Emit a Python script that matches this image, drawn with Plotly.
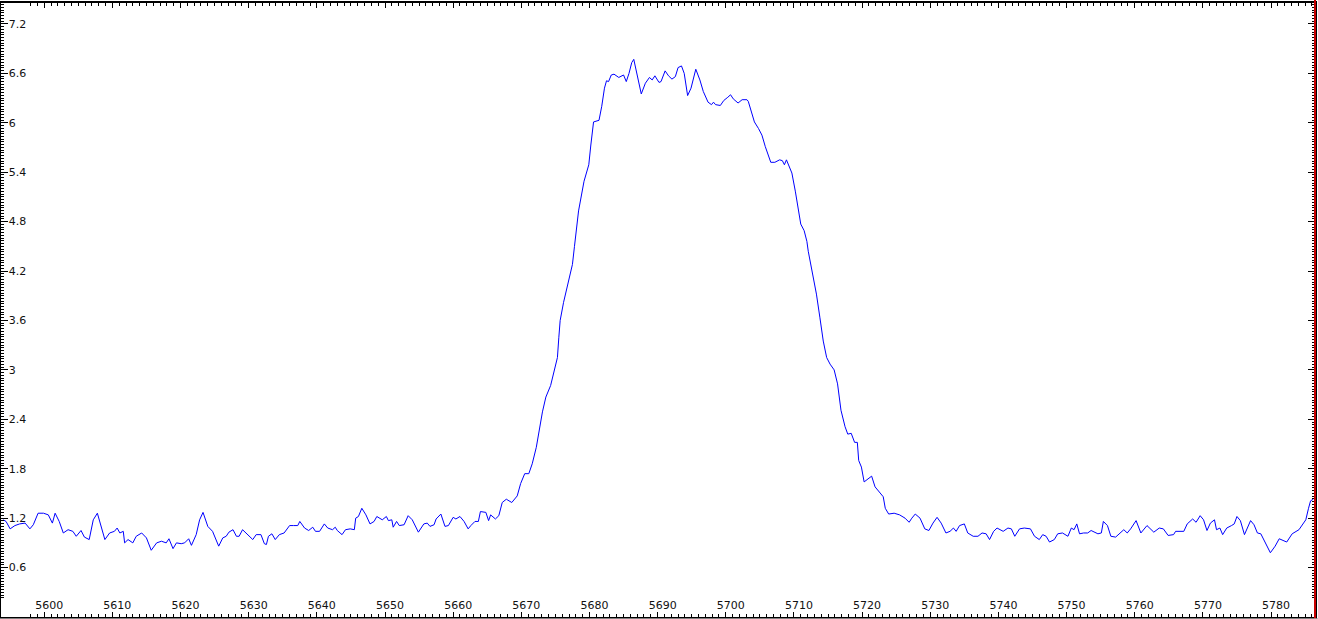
import plotly.graph_objects as go

# Wavelength (Angstrom) and flux
wavelength = [
    5594.0, 5594.4, 5595.0, 5595.7, 5596.4, 5597.2, 5597.9, 5598.4, 5599.1, 5599.9,
    5600.6, 5601.2, 5601.6, 5602.2, 5602.8, 5603.5, 5604.2, 5604.7, 5605.4, 5605.9,
    5606.6, 5607.2, 5607.8, 5608.2, 5608.9, 5609.6, 5610.3, 5610.7, 5611.1, 5611.6,
    5611.8, 5612.3, 5613.0, 5613.5, 5614.3, 5615.0, 5615.7, 5616.5, 5617.2, 5617.9,
    5618.3, 5618.9, 5619.4, 5620.1, 5620.6, 5621.2, 5621.6, 5622.3, 5622.8, 5623.3,
    5624.0, 5624.7, 5625.6, 5626.2, 5626.7, 5627.1, 5627.7, 5628.2, 5628.6, 5629.1,
    5629.7, 5630.6, 5631.1, 5631.8, 5632.3, 5632.6, 5632.9, 5633.4, 5633.9, 5634.5,
    5635.2, 5636.0, 5636.6, 5637.2, 5637.5, 5638.2, 5638.8, 5639.4, 5639.8, 5640.4,
    5641.1, 5641.6, 5642.3, 5642.7, 5643.0, 5643.7, 5644.2, 5644.9, 5645.5, 5645.7,
    5646.1, 5646.6, 5647.2, 5647.8, 5648.4, 5648.8, 5649.6, 5650.2, 5650.5, 5651.0,
    5651.2, 5651.7, 5652.1, 5652.8, 5653.4, 5654.0, 5654.9, 5655.7, 5656.2, 5656.6,
    5657.2, 5657.5, 5658.2, 5658.8, 5659.3, 5660.0, 5660.4, 5661.0, 5661.6, 5662.2,
    5662.6, 5663.2, 5663.7, 5664.0, 5664.8, 5665.2, 5665.5, 5666.2, 5666.7, 5667.2,
    5667.8, 5668.6, 5669.4, 5669.9, 5670.5, 5671.1, 5671.6, 5672.2, 5673.1, 5673.6,
    5674.3, 5674.9, 5675.3, 5675.5, 5675.7, 5676.2, 5676.7, 5677.1, 5677.5, 5677.8,
    5678.4, 5679.2, 5679.9, 5680.2, 5680.6, 5681.4, 5681.8, 5682.2, 5682.5, 5682.8,
    5683.2, 5683.6, 5684.3, 5685.0, 5685.4, 5685.8, 5686.2, 5686.5, 5687.0, 5687.6,
    5688.2, 5688.8, 5689.2, 5689.6, 5690.2, 5690.5, 5691.1, 5691.6, 5692.1, 5692.6,
    5693.0, 5693.5, 5693.9, 5694.4, 5694.9, 5695.6, 5696.2, 5696.7, 5697.4, 5697.9,
    5698.2, 5698.5, 5699.2, 5699.7, 5700.3, 5700.7, 5701.1, 5701.8, 5702.4, 5703.1,
    5703.3, 5703.7, 5704.2, 5704.8, 5705.3, 5705.8, 5706.2, 5706.6, 5707.2, 5707.9,
    5708.3, 5708.6, 5708.9, 5709.7, 5710.2, 5710.6, 5711.0, 5711.5, 5711.9, 5712.1,
    5712.8, 5713.3, 5713.8, 5714.3, 5714.8, 5715.3, 5715.9, 5716.4, 5716.9, 5717.5,
    5717.9, 5718.4, 5718.9, 5719.3, 5719.5, 5719.9, 5720.3, 5720.9, 5721.4, 5721.9,
    5722.6, 5723.1, 5723.4, 5723.9, 5724.7, 5725.5, 5726.3, 5726.9, 5727.3, 5727.8,
    5728.5, 5729.2, 5729.8, 5730.4, 5731.0, 5731.6, 5732.3, 5732.9, 5733.4, 5733.8,
    5734.3, 5735.0, 5735.5, 5736.3, 5737.0, 5737.6, 5738.2, 5738.7, 5739.3, 5739.8,
    5740.7, 5741.4, 5741.9, 5742.4, 5743.1, 5743.8, 5744.7, 5745.3, 5746.0, 5746.5,
    5747.0, 5747.5, 5748.2, 5748.7, 5749.4, 5750.2, 5750.7, 5751.1, 5751.5, 5751.9,
    5752.5, 5753.1, 5753.6, 5754.6, 5755.1, 5755.4, 5756.0, 5756.5, 5757.2, 5757.7,
    5758.4, 5758.9, 5759.4, 5760.2, 5760.9, 5761.8, 5762.8, 5763.6, 5764.2, 5764.9,
    5765.7, 5766.0, 5767.2, 5767.7, 5768.5, 5769.0, 5769.6, 5770.1, 5770.6, 5771.1,
    5771.7, 5772.0, 5772.5, 5772.9, 5773.5, 5774.2, 5774.6, 5775.0, 5775.5, 5776.1,
    5777.0, 5777.5, 5778.0, 5778.5, 5779.2, 5779.9, 5780.6, 5781.2, 5782.3, 5783.1,
    5784.1, 5785.1, 5785.5, 5785.8, 5786.2,
]

flux = [
    1.18, 1.16, 1.07, 1.11, 1.13, 1.14, 1.07, 1.12, 1.26, 1.26,
    1.24, 1.14, 1.26, 1.16, 1.02, 1.06, 1.04, 0.98, 1.05, 0.97,
    0.94, 1.18, 1.26, 1.14, 0.94, 1.02, 1.04, 1.08, 1.02, 1.04,
    0.90, 0.94, 0.90, 0.98, 1.02, 0.96, 0.81, 0.90, 0.92, 0.90,
    0.95, 0.83, 0.90, 0.89, 0.90, 0.95, 0.87, 1.00, 1.18, 1.27,
    1.10, 1.04, 0.86, 0.96, 0.98, 1.03, 1.06, 0.98, 0.98, 1.06,
    1.01, 0.94, 1.00, 1.00, 0.89, 0.88, 0.98, 1.01, 0.94, 1.00,
    1.02, 1.11, 1.11, 1.11, 1.16, 1.08, 1.05, 1.09, 1.04, 1.04,
    1.13, 1.08, 1.06, 1.09, 1.05, 1.00, 1.06, 1.07, 1.06, 1.20,
    1.22, 1.32, 1.24, 1.13, 1.16, 1.22, 1.18, 1.22, 1.17, 1.18,
    1.09, 1.16, 1.11, 1.12, 1.23, 1.18, 1.03, 1.13, 1.14, 1.10,
    1.12, 1.19, 1.25, 1.10, 1.11, 1.21, 1.19, 1.22, 1.16, 1.07,
    1.11, 1.16, 1.16, 1.28, 1.27, 1.17, 1.24, 1.19, 1.23, 1.39,
    1.43, 1.39, 1.47, 1.62, 1.74, 1.74, 1.86, 2.06, 2.49, 2.67,
    2.81, 3.03, 3.15, 3.39, 3.60, 3.82, 4.00, 4.14, 4.28, 4.50,
    4.93, 5.29, 5.49, 5.73, 6.01, 6.03, 6.20, 6.42, 6.51, 6.50,
    6.58, 6.59, 6.55, 6.58, 6.50, 6.60, 6.73, 6.77, 6.58, 6.35,
    6.48, 6.55, 6.52, 6.57, 6.49, 6.50, 6.63, 6.57, 6.53, 6.56,
    6.67, 6.69, 6.60, 6.33, 6.42, 6.65, 6.52, 6.38, 6.25, 6.22,
    6.25, 6.22, 6.21, 6.27, 6.31, 6.34, 6.29, 6.24, 6.28, 6.28,
    6.26, 6.14, 6.01, 5.93, 5.85, 5.71, 5.61, 5.52, 5.52, 5.55,
    5.54, 5.49, 5.55, 5.39, 5.17, 4.97, 4.77, 4.69, 4.56, 4.44,
    4.16, 3.92, 3.64, 3.35, 3.15, 3.07, 3.00, 2.83, 2.51, 2.31,
    2.22, 2.23, 2.12, 2.12, 1.90, 1.82, 1.64, 1.68, 1.71, 1.58,
    1.51, 1.46, 1.32, 1.25, 1.26, 1.24, 1.20, 1.15, 1.20, 1.25,
    1.20, 1.07, 1.05, 1.14, 1.21, 1.14, 1.02, 1.04, 1.08, 1.04,
    1.11, 1.13, 1.02, 0.98, 0.98, 1.02, 1.01, 0.94, 1.04, 1.08,
    1.04, 1.08, 1.07, 0.98, 1.07, 1.08, 1.07, 0.98, 0.94, 1.00,
    0.98, 0.91, 0.94, 1.01, 1.02, 0.98, 1.08, 1.06, 1.13, 1.01,
    1.02, 1.02, 1.05, 1.01, 1.02, 1.16, 1.11, 0.98, 0.97, 1.01,
    1.06, 1.02, 1.07, 1.17, 1.02, 1.11, 1.03, 1.08, 1.07, 0.99,
    1.00, 1.04, 1.04, 1.13, 1.19, 1.15, 1.23, 1.18, 1.05, 1.14,
    1.18, 1.06, 1.08, 1.00, 1.08, 1.11, 1.13, 1.22, 1.17, 1.00,
    1.17, 1.12, 1.02, 1.01, 0.90, 0.78, 0.86, 0.95, 0.91, 1.01,
    1.06, 1.18, 1.32, 1.41, 1.43,
]

x_ticks = list(range(5600, 5790, 10))
y_tick_vals = [0.6, 1.2, 1.8, 2.4, 3.0, 3.6, 4.2, 4.8, 5.4, 6.0, 6.6, 7.2]
y_tick_text = ["0.6", "1.2", "1.8", "2.4", "3", "3.6", "4.2", "4.8", "5.4", "6", "6.6", "7.2"]

fig = go.Figure()
fig.add_trace(go.Scatter(
    x=wavelength, y=flux, mode="lines",
    line=dict(color="rgb(0,0,255)", width=1),
    hoverinfo="x+y", showlegend=False,
))

font = dict(family="DejaVu Sans, Verdana, sans-serif", size=11, color="#111111")

fig.update_layout(
    width=1318, height=619,
    margin=dict(l=1, r=1, t=1, b=2),
    paper_bgcolor="white", plot_bgcolor="white",
    font=font,
    xaxis=dict(
        range=[5593.66, 5786.45],
        tickvals=x_ticks, ticktext=[str(v) for v in x_ticks],
        ticks="inside", ticklen=5, tickwidth=1, tickcolor="black",
        ticklabelposition="inside", ticklabelshift=5,
        showline=True, linecolor="black", linewidth=2, mirror="allticks",
        showgrid=False, zeroline=False,
        minor=dict(dtick=1, tick0=5600, ticks="inside", ticklen=3,
                   tickcolor="black", showgrid=False),
        tickfont=font,
    ),
    yaxis=dict(
        range=[0, 7.454],
        tickvals=y_tick_vals, ticktext=y_tick_text,
        ticks="inside", ticklen=7, tickwidth=1, tickcolor="black",
        ticklabelposition="inside",
        showline=True, linecolor="black", linewidth=2, mirror="allticks",
        showgrid=False, zeroline=False,
        minor=dict(dtick=0.6 / 18, tick0=0, ticks="inside", ticklen=3,
                   tickcolor="black", showgrid=False),
        tickfont=font,
    ),
    shapes=[
        dict(type="line", xref="paper", yref="paper", x0=1, x1=1, y0=-0.01, y1=1.01,
             line=dict(color="rgb(200,0,0)", width=2), layer="above"),
        dict(type="line", xref="paper", yref="paper", x0=-0.01, x1=1.01, y0=-0.0035, y1=-0.0035,
             line=dict(color="rgb(170,170,170)", width=2), layer="above"),
    ],
)

fig.write_html(
    "out.html",
    config={"displayModeBar": False},
    post_script="document.body.style.margin='0px';document.body.style.overflow='hidden';",
)
